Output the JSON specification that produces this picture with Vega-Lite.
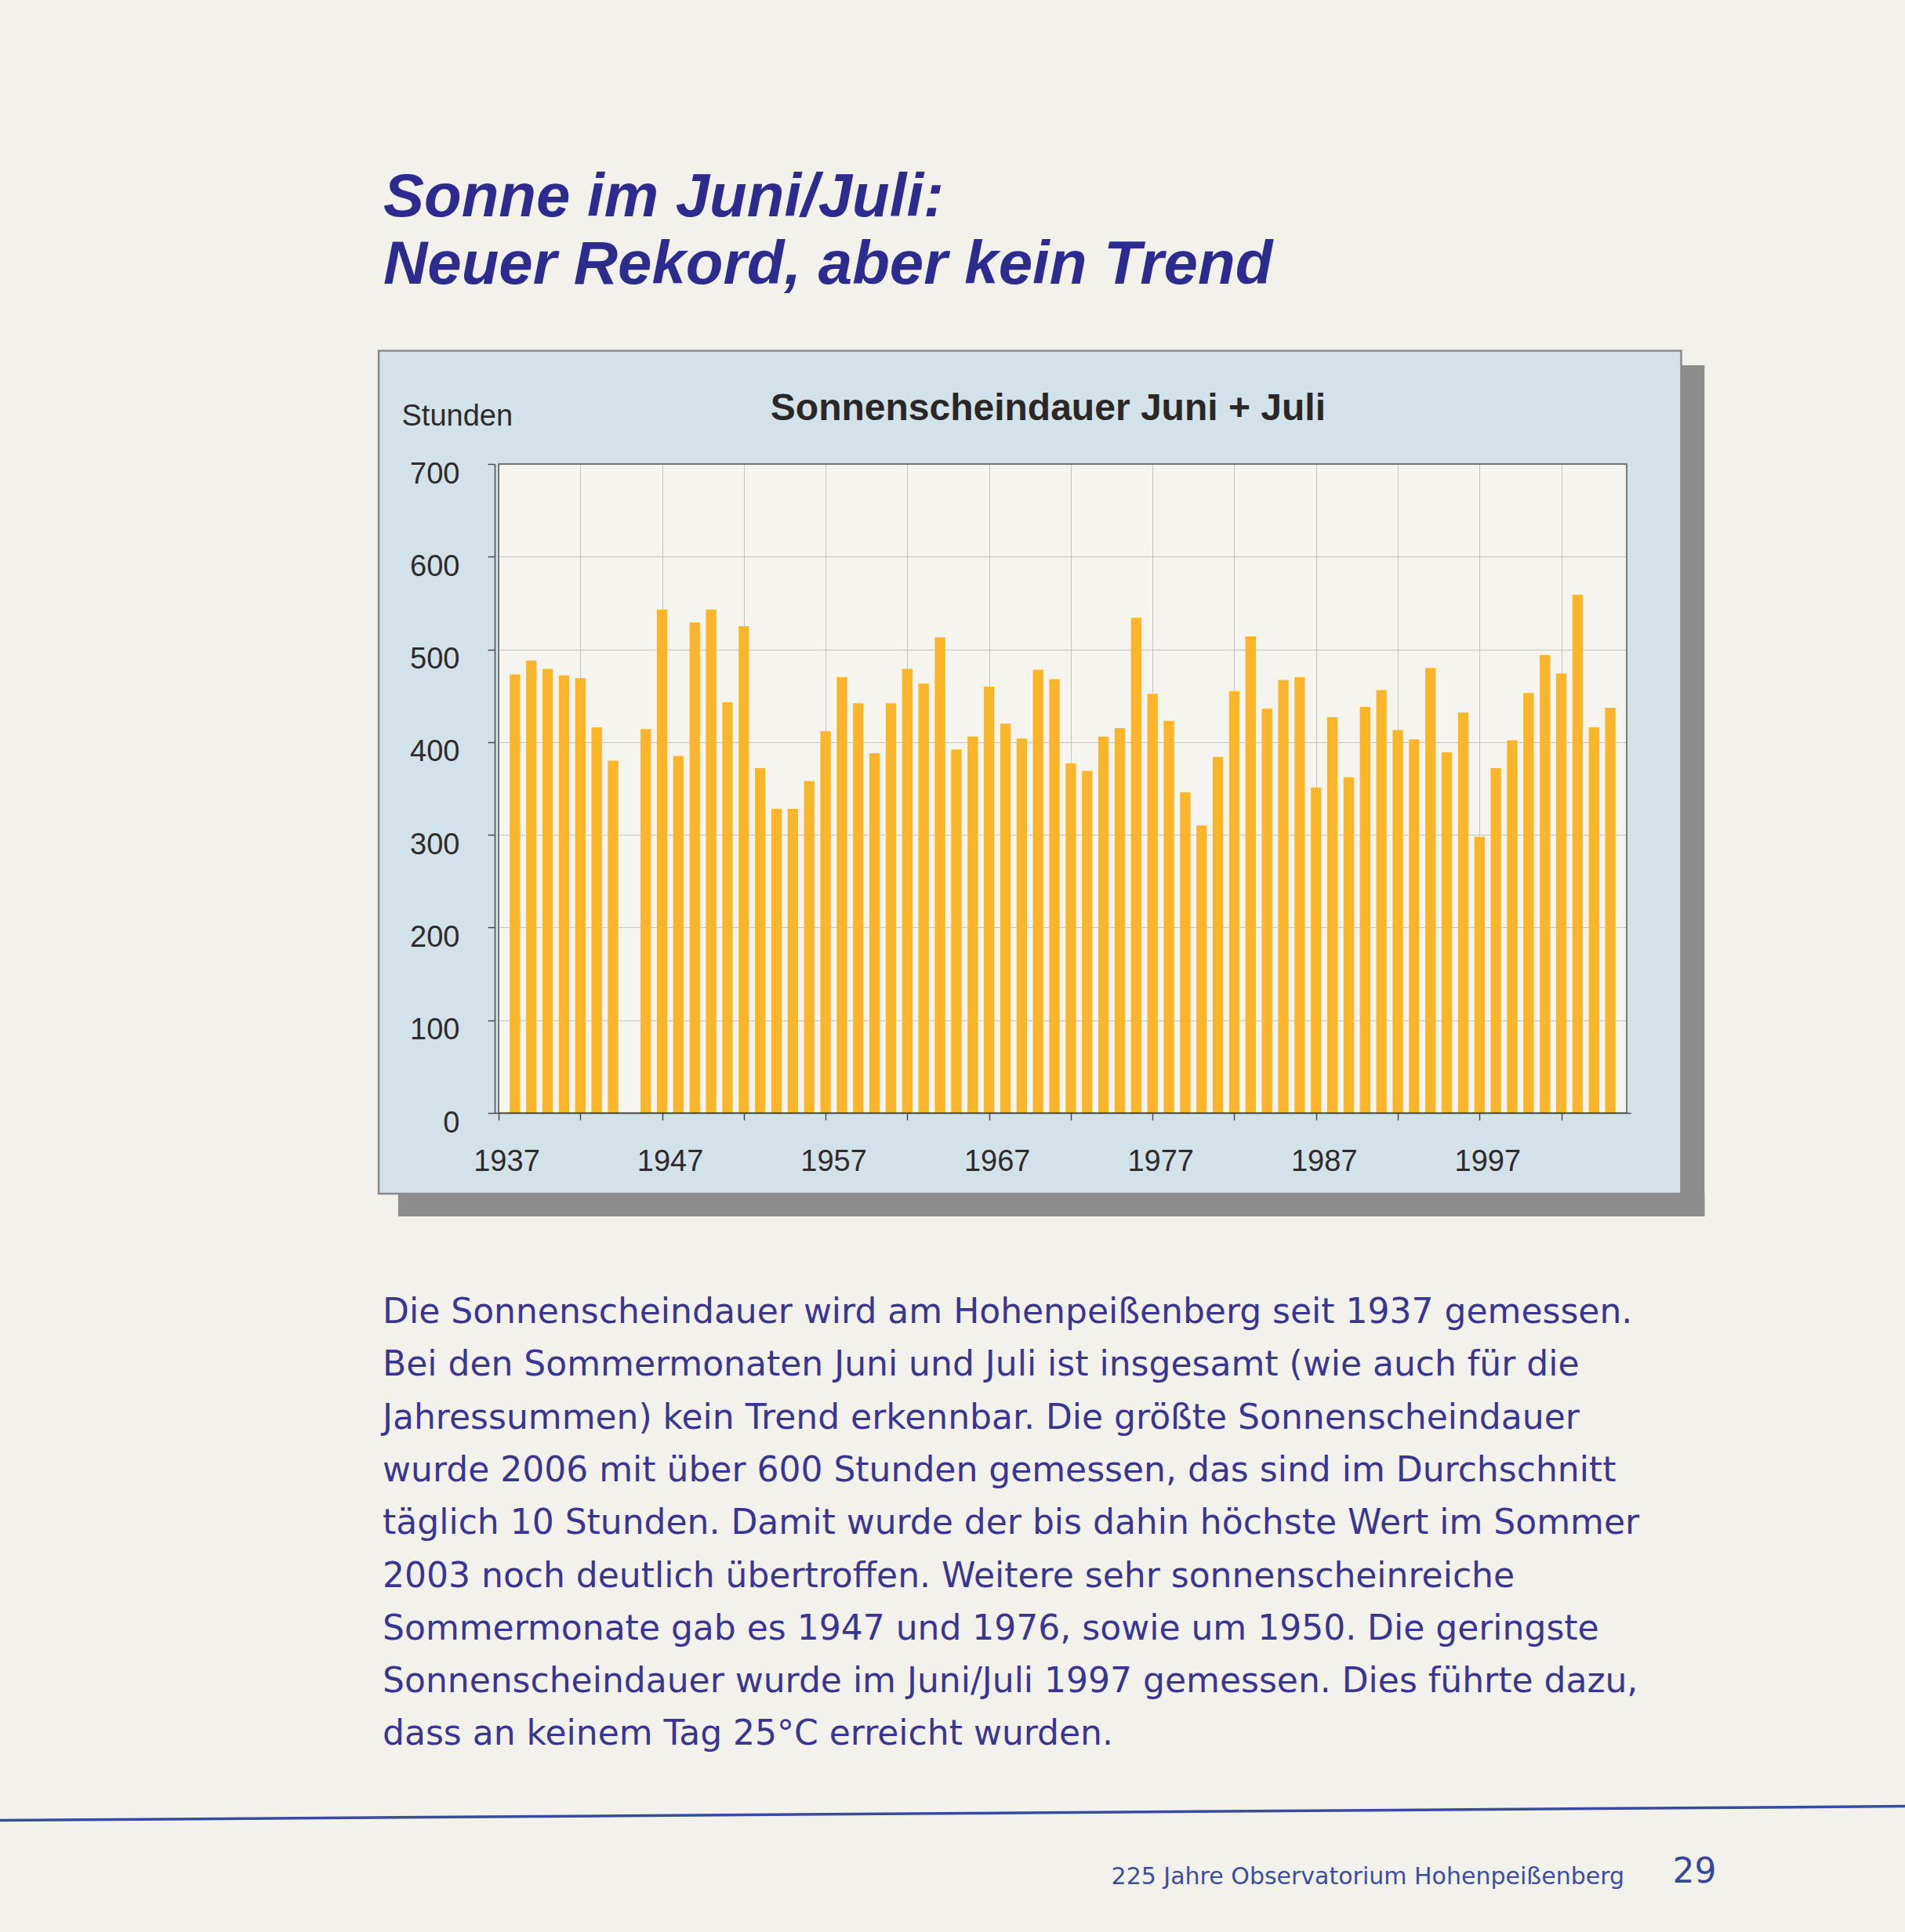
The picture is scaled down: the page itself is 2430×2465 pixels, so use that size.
{
  "$schema": "https://vega.github.io/schema/vega-lite/v6.json",
  "width": 1449,
  "height": 828,
  "autosize": {"type": "none"},
  "padding": {"left": 631, "top": 592, "right": 350, "bottom": 1045},
  "background": "#f3f1ec",
  "config": {"view": {"fill": "#f6f4ee", "stroke": null}, "font": "Liberation Sans"},
  "layer": [
    {
      "data": {"values": [{}]},
      "mark": {"type": "rect", "color": "#8d8d8d"},
      "encoding": {
        "x": {"datum": 2009.333, "type": "quantitative", "scale": {"domain": [1937, 2006], "nice": false, "zero": false}, "axis": null},
        "x2": {"datum": 2010.762},
        "y": {"datum": -111.6, "type": "quantitative", "scale": {"domain": [0, 700], "nice": false, "zero": false}, "axis": null},
        "y2": {"datum": 806.5}
      }
    },
    {
      "data": {"values": [{}]},
      "mark": {"type": "rect", "color": "#8d8d8d"},
      "encoding": {
        "x": {"datum": 1930.857, "type": "quantitative", "scale": {"domain": [1937, 2006], "nice": false, "zero": false}, "axis": null},
        "x2": {"datum": 2010.762},
        "y": {"datum": -111.6, "type": "quantitative", "scale": {"domain": [0, 700], "nice": false, "zero": false}, "axis": null},
        "y2": {"datum": -87.08}
      }
    },
    {
      "data": {"values": [{}]},
      "mark": {"type": "rect", "color": "#d3e1e8"},
      "encoding": {
        "x": {"datum": 1929.667, "type": "quantitative", "scale": {"domain": [1937, 2006], "nice": false, "zero": false},
          "axis": {"orient": "top", "grid": true, "gridColor": "#c4c4c4", "gridWidth": 1, "labels": false, "ticks": false, "domain": false, "title": null, "zindex": 0,
            "values": [1937, 1942, 1947, 1952, 1957, 1962, 1967, 1972, 1977, 1982, 1987, 1992, 1997, 2002]}},
        "x2": {"datum": 2009.333},
        "y": {"datum": 700, "type": "quantitative", "scale": {"domain": [0, 700], "nice": false, "zero": false},
          "axis": {"orient": "right", "grid": true, "gridColor": "#c4c4c4", "gridWidth": 1, "labels": false, "ticks": false, "domain": false, "title": null, "zindex": 0,
            "values": [0, 100, 200, 300, 400, 500, 600, 700]}},
        "y2": {"datum": 822.2}
      }
    },
    {
      "data": {"values": [{}]},
      "mark": {"type": "rect", "color": "#d3e1e8"},
      "encoding": {
        "x": {"datum": 1929.667, "type": "quantitative", "scale": {"domain": [1937, 2006], "nice": false, "zero": false}, "axis": null},
        "x2": {"datum": 2009.333},
        "y": {"datum": -87.08, "type": "quantitative", "scale": {"domain": [0, 700], "nice": false, "zero": false}, "axis": null},
        "y2": {"datum": 0}
      }
    },
    {
      "data": {"values": [{}]},
      "mark": {"type": "rect", "color": "#d3e1e8"},
      "encoding": {
        "x": {"datum": 1929.667, "type": "quantitative", "scale": {"domain": [1937, 2006], "nice": false, "zero": false}, "axis": null},
        "x2": {"datum": 1937},
        "y": {"datum": 0, "type": "quantitative", "scale": {"domain": [0, 700], "nice": false, "zero": false}, "axis": null},
        "y2": {"datum": 700}
      }
    },
    {
      "data": {"values": [{}]},
      "mark": {"type": "rect", "color": "#d3e1e8"},
      "encoding": {
        "x": {"datum": 2006, "type": "quantitative", "scale": {"domain": [1937, 2006], "nice": false, "zero": false}, "axis": null},
        "x2": {"datum": 2009.333},
        "y": {"datum": 0, "type": "quantitative", "scale": {"domain": [0, 700], "nice": false, "zero": false}, "axis": null},
        "y2": {"datum": 700}
      }
    },
    {
      "data": {"values": [{}]},
      "mark": {"type": "rect", "filled": false, "stroke": "#8a8a8a", "strokeWidth": 2.5},
      "encoding": {
        "x": {"datum": 1929.667, "type": "quantitative", "scale": {"domain": [1937, 2006], "nice": false, "zero": false}, "axis": null},
        "x2": {"datum": 2009.333},
        "y": {"datum": -87.08, "type": "quantitative", "scale": {"domain": [0, 700], "nice": false, "zero": false}, "axis": null},
        "y2": {"datum": 822.2}
      }
    },
    {
      "data": {"values": [
        {"year": 1938, "hours": 473}, {"year": 1939, "hours": 488}, {"year": 1940, "hours": 479}, {"year": 1941, "hours": 472},
        {"year": 1942, "hours": 469}, {"year": 1943, "hours": 416}, {"year": 1944, "hours": 380},
        {"year": 1946, "hours": 414}, {"year": 1947, "hours": 543}, {"year": 1948, "hours": 385}, {"year": 1949, "hours": 529},
        {"year": 1950, "hours": 543}, {"year": 1951, "hours": 443}, {"year": 1952, "hours": 525}, {"year": 1953, "hours": 372},
        {"year": 1954, "hours": 328}, {"year": 1955, "hours": 328}, {"year": 1956, "hours": 358}, {"year": 1957, "hours": 412},
        {"year": 1958, "hours": 470}, {"year": 1959, "hours": 442}, {"year": 1960, "hours": 388}, {"year": 1961, "hours": 442},
        {"year": 1962, "hours": 479}, {"year": 1963, "hours": 463}, {"year": 1964, "hours": 513}, {"year": 1965, "hours": 392},
        {"year": 1966, "hours": 406}, {"year": 1967, "hours": 460}, {"year": 1968, "hours": 420}, {"year": 1969, "hours": 404},
        {"year": 1970, "hours": 478}, {"year": 1971, "hours": 468}, {"year": 1972, "hours": 377}, {"year": 1973, "hours": 369},
        {"year": 1974, "hours": 406}, {"year": 1975, "hours": 415}, {"year": 1976, "hours": 534}, {"year": 1977, "hours": 452},
        {"year": 1978, "hours": 423}, {"year": 1979, "hours": 346}, {"year": 1980, "hours": 310}, {"year": 1981, "hours": 384},
        {"year": 1982, "hours": 455}, {"year": 1983, "hours": 514}, {"year": 1984, "hours": 436}, {"year": 1985, "hours": 467},
        {"year": 1986, "hours": 470}, {"year": 1987, "hours": 351}, {"year": 1988, "hours": 427}, {"year": 1989, "hours": 362},
        {"year": 1990, "hours": 438}, {"year": 1991, "hours": 456}, {"year": 1992, "hours": 413}, {"year": 1993, "hours": 403},
        {"year": 1994, "hours": 480}, {"year": 1995, "hours": 389}, {"year": 1996, "hours": 432}, {"year": 1997, "hours": 298},
        {"year": 1998, "hours": 372}, {"year": 1999, "hours": 402}, {"year": 2000, "hours": 453}, {"year": 2001, "hours": 494},
        {"year": 2002, "hours": 474}, {"year": 2003, "hours": 559}, {"year": 2004, "hours": 416}, {"year": 2005, "hours": 437}
      ]},
      "mark": {"type": "bar", "orient": "vertical", "color": "#fbb52a", "width": 13.3},
      "encoding": {
        "x": {"field": "year", "type": "quantitative", "scale": {"domain": [1937, 2006], "nice": false, "zero": false},
          "axis": {"orient": "bottom", "grid": false, "values": [1937, 1942, 1947, 1952, 1957, 1962, 1967, 1972, 1977, 1982, 1987, 1992, 1997, 2002],
            "format": "d", "labelExpr": "(datum.value - 1937) % 10 === 0 ? datum.label : ''",
            "tickSize": 9, "tickColor": "#4a4a4a", "tickWidth": 1.5, "domainColor": "#4a4a4a", "domainWidth": 1.5,
            "labelFont": "Liberation Sans", "labelFontSize": 38, "labelColor": "#2f2b2b", "labelPadding": 34, "labelOffset": 10,
            "labelBaseline": "top", "labelFlush": false, "labelOverlap": false, "title": null, "zindex": 1}},
        "y": {"field": "hours", "type": "quantitative", "stack": null, "scale": {"domain": [0, 700], "nice": false, "zero": false},
          "axis": {"orient": "left", "grid": false, "values": [0, 100, 200, 300, 400, 500, 600, 700],
            "tickSize": 9, "tickColor": "#4a4a4a", "tickWidth": 1.5, "domainColor": "#4a4a4a", "domainWidth": 1.5,
            "labelFont": "Liberation Sans", "labelFontSize": 38, "labelColor": "#2f2b2b", "labelPadding": 36, "labelOffset": 13,
            "title": "Stunden", "titleAngle": 0, "titleX": -119, "titleY": -50, "titleAlign": "left", "titleBaseline": "alphabetic",
            "titleFont": "Liberation Sans", "titleFontSize": 38, "titleFontWeight": "normal", "titleColor": "#2f2b2b", "zindex": 1}}
      }
    },
    {
      "data": {"values": [{}]},
      "mark": {"type": "rect", "filled": false, "stroke": "#555555", "strokeWidth": 1.5},
      "encoding": {
        "x": {"datum": 1937, "type": "quantitative", "scale": {"domain": [1937, 2006], "nice": false, "zero": false}, "axis": null},
        "x2": {"datum": 2006},
        "y": {"datum": 0, "type": "quantitative", "scale": {"domain": [0, 700], "nice": false, "zero": false}, "axis": null},
        "y2": {"datum": 700}
      }
    },
    {
      "data": {"values": [{}]},
      "mark": {"type": "text", "text": ["Sonne im Juni/Juli:", "Neuer Rekord, aber kein Trend"], "align": "left", "baseline": "alphabetic",
        "font": "Liberation Sans", "fontSize": 78, "fontWeight": "bold", "fontStyle": "italic", "lineHeight": 86, "color": "#2e2b8f"},
      "encoding": {
        "x": {"datum": 1929.952, "type": "quantitative", "scale": {"domain": [1937, 2006], "nice": false, "zero": false}, "axis": null},
        "y": {"datum": 967.15, "type": "quantitative", "scale": {"domain": [0, 700], "nice": false, "zero": false}, "axis": null}
      }
    },
    {
      "data": {"values": [{}]},
      "mark": {"type": "text", "text": "Sonnenscheindauer Juni + Juli", "align": "center", "baseline": "alphabetic",
        "font": "Liberation Sans", "fontSize": 48, "fontWeight": "bold", "color": "#2b2726"},
      "encoding": {
        "x": {"datum": 1970.607, "type": "quantitative", "scale": {"domain": [1937, 2006], "nice": false, "zero": false}, "axis": null},
        "y": {"datum": 747.35, "type": "quantitative", "scale": {"domain": [0, 700], "nice": false, "zero": false}, "axis": null}
      }
    },
    {
      "data": {"values": [{}]},
      "mark": {"type": "text", "text": [
          "Die Sonnenscheindauer wird am Hohenpeißenberg seit 1937 gemessen.",
          "Bei den Sommermonaten Juni und Juli ist insgesamt (wie auch für die",
          "Jahressummen) kein Trend erkennbar. Die größte Sonnenscheindauer",
          "wurde 2006 mit über 600 Stunden gemessen, das sind im Durchschnitt",
          "täglich 10 Stunden. Damit wurde der bis dahin höchste Wert im Sommer",
          "2003 noch deutlich übertroffen. Weitere sehr sonnenscheinreiche",
          "Sommermonate gab es 1947 und 1976, sowie um 1950. Die geringste",
          "Sonnenscheindauer wurde im Juni/Juli 1997 gemessen. Dies führte dazu,",
          "dass an keinem Tag 25°C erreicht wurden."],
        "align": "left", "baseline": "alphabetic", "font": "DejaVu Sans", "fontSize": 44, "lineHeight": 67.3, "color": "#3b3592"},
      "encoding": {
        "x": {"datum": 1929.905, "type": "quantitative", "scale": {"domain": [1937, 2006], "nice": false, "zero": false}, "axis": null},
        "y": {"datum": -226.57, "type": "quantitative", "scale": {"domain": [0, 700], "nice": false, "zero": false}, "axis": null}
      }
    },
    {
      "data": {"values": [{}]},
      "mark": {"type": "rule", "color": "#3a4a9e", "strokeWidth": 3.5},
      "encoding": {
        "x": {"datum": 1905, "type": "quantitative", "scale": {"domain": [1937, 2006], "nice": false, "zero": false}, "axis": null},
        "x2": {"datum": 2025},
        "y": {"datum": -763.2, "type": "quantitative", "scale": {"domain": [0, 700], "nice": false, "zero": false}, "axis": null},
        "y2": {"datum": -747.6}
      }
    },
    {
      "data": {"values": [{}]},
      "mark": {"type": "text", "text": "225 Jahre Observatorium Hohenpeißenberg", "align": "left", "baseline": "alphabetic",
        "font": "DejaVu Sans", "fontSize": 30, "color": "#3d4e9f"},
      "encoding": {
        "x": {"datum": 1974.476, "type": "quantitative", "scale": {"domain": [1937, 2006], "nice": false, "zero": false}, "axis": null},
        "y": {"datum": -831.9, "type": "quantitative", "scale": {"domain": [0, 700], "nice": false, "zero": false}, "axis": null}
      }
    },
    {
      "data": {"values": [{}]},
      "mark": {"type": "text", "text": "29", "align": "left", "baseline": "alphabetic",
        "font": "DejaVu Sans", "fontSize": 44, "color": "#34489c"},
      "encoding": {
        "x": {"datum": 2008.81, "type": "quantitative", "scale": {"domain": [1937, 2006], "nice": false, "zero": false}, "axis": null},
        "y": {"datum": -830.2, "type": "quantitative", "scale": {"domain": [0, 700], "nice": false, "zero": false}, "axis": null}
      }
    }
  ]
}
